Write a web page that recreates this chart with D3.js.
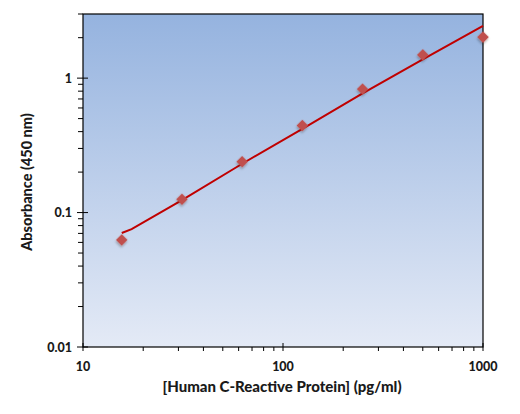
<!DOCTYPE html>
<html>
<head>
<meta charset="utf-8">
<script src="https://cdn.jsdelivr.net/npm/d3@7"></script>
<style>
  body { margin: 0; background: #fff; }
  text { font-family: Lato, "Open Sans", sans-serif; font-weight: 900; fill: #1a1a1a; }
</style>
</head>
<body>
<svg id="chart"></svg>
<script>
// standard concentrations (pg/ml) and measured absorbance
const concentrations = [15.625, 31.25, 62.5, 125, 250, 500, 1000];
const absorbance = [0.0626, 0.1256, 0.239, 0.444, 0.829, 1.49, 2.02];

// fitted curve
const fitX = [15.625, 17.5, 31.25, 62.5, 125, 250, 500, 1000];
const fitY = [0.0705, 0.0754, 0.1236, 0.2308, 0.420, 0.771, 1.379, 2.447];

const xTicks = [10, 100, 1000];
const yTicks = [0.01, 0.1, 1];

const width = 520, height = 414;
const margin = { top: 14, right: 37, bottom: 67, left: 83 };
const innerW = width - margin.left - margin.right;
const innerH = height - margin.top - margin.bottom;

const svg = d3.select("#chart").attr("width", width).attr("height", height);

const defs = svg.append("defs");
const grad = defs.append("linearGradient")
  .attr("id", "bg").attr("x1", 0).attr("y1", 0).attr("x2", 0).attr("y2", 1);
grad.append("stop").attr("offset", "0%").attr("stop-color", "#95b3df");
grad.append("stop").attr("offset", "100%").attr("stop-color", "#e4eaf6");

const shadow = defs.append("filter").attr("id", "shadow")
  .attr("x", "-50%").attr("y", "-50%").attr("width", "200%").attr("height", "200%");
shadow.append("feDropShadow").attr("dx", 1).attr("dy", 1.5)
  .attr("stdDeviation", 1).attr("flood-color", "#000").attr("flood-opacity", 0.3);

const g = svg.append("g").attr("transform", `translate(${margin.left},${margin.top})`);

const x = d3.scaleLog().domain([10, 1000]).range([0, innerW]);
const y = d3.scaleLog().domain([0.01, 3]).range([innerH, 0]);

g.append("rect")
  .attr("width", innerW).attr("height", innerH)
  .attr("fill", "url(#bg)");

// minor ticks
const xMinor = d3.range(1, 3).flatMap(p => d3.range(2, 10).map(m => m * Math.pow(10, p)));
const yMinor = d3.range(-2, 1).flatMap(p => d3.range(2, 10).map(m => m * Math.pow(10, p)))
  .filter(v => v <= 3);

g.append("g").selectAll("line").data(xMinor).join("line")
  .attr("x1", d => x(d)).attr("x2", d => x(d))
  .attr("y1", innerH).attr("y2", innerH + 4)
  .attr("stroke", "#000");

g.append("g").selectAll("line").data(yMinor).join("line")
  .attr("y1", d => y(d)).attr("y2", d => y(d))
  .attr("x1", -5).attr("x2", 0)
  .attr("stroke", "#000");

// major ticks cross the axis
g.append("g").selectAll("line").data(xTicks).join("line")
  .attr("x1", d => x(d)).attr("x2", d => x(d))
  .attr("y1", innerH - 4).attr("y2", innerH + 4)
  .attr("stroke", "#000");

g.append("g").selectAll("line").data(yTicks).join("line")
  .attr("y1", d => y(d)).attr("y2", d => y(d))
  .attr("x1", -6).attr("x2", 5)
  .attr("stroke", "#000");

g.append("g").selectAll("text").data(xTicks).join("text")
  .attr("x", d => x(d)).attr("y", innerH + 24)
  .attr("text-anchor", "middle")
  .style("font-size", "12.5px")
  .text(d => d);

g.append("g").selectAll("text").data(yTicks).join("text")
  .attr("x", -11).attr("y", d => y(d) + 4.5)
  .attr("text-anchor", "end")
  .style("font-size", "12.5px")
  .text(d => d);

// frame
g.append("rect")
  .attr("width", innerW).attr("height", innerH)
  .attr("fill", "none").attr("stroke", "#000").attr("stroke-width", 1.2);

// fit curve
const line = d3.line()
  .x((d, i) => x(fitX[i]))
  .y(d => y(d));

g.append("path")
  .datum(fitY)
  .attr("d", line)
  .attr("fill", "none")
  .attr("stroke", "#c00000")
  .attr("stroke-width", 2);

// points
g.append("g").selectAll("path").data(absorbance).join("path")
  .attr("d", d3.symbol().type(d3.symbolSquare).size(68))
  .attr("transform", (d, i) => `translate(${x(concentrations[i])},${y(d)}) rotate(45)`)
  .attr("fill", "#c0504d")
  .attr("filter", "url(#shadow)");

// axis titles
svg.append("text")
  .attr("x", margin.left + innerW / 2 - 1).attr("y", 392)
  .attr("text-anchor", "middle")
  .style("font-size", "15px")
  .text("[Human C-Reactive Protein] (pg/ml)");

svg.append("text")
  .attr("transform", `translate(32,${margin.top + 168}) rotate(-90)`)
  .attr("text-anchor", "middle")
  .style("font-size", "14.5px")
  .text("Absorbance (450 nm)");
</script>
</body>
</html>
